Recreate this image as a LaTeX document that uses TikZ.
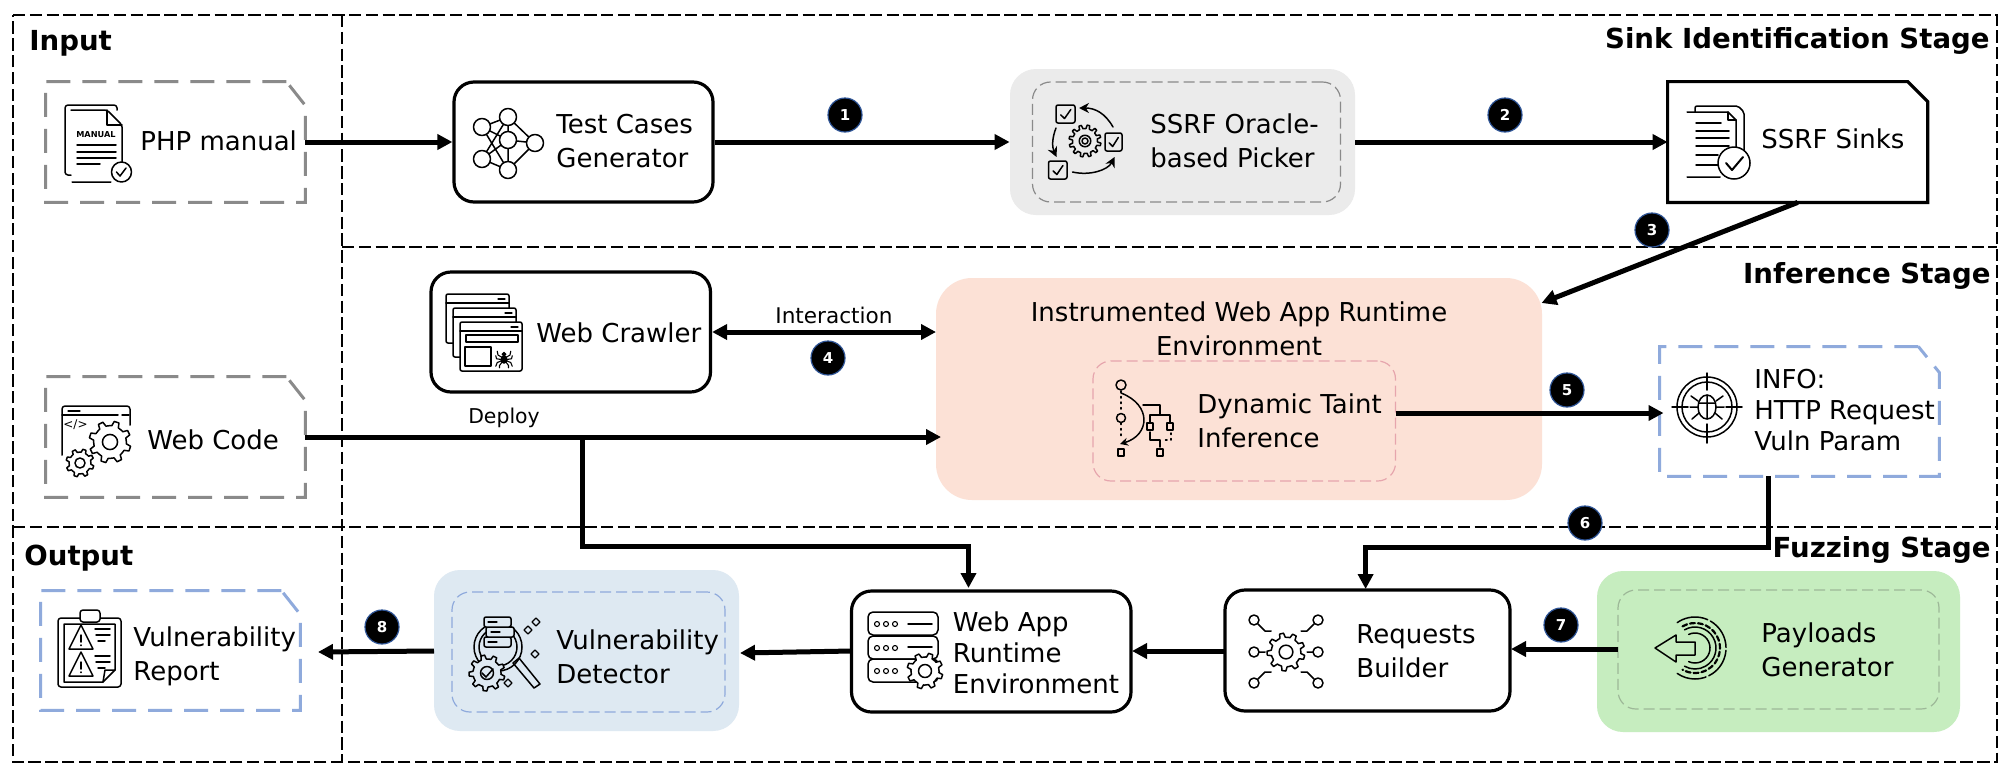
\documentclass[tikz,border=0pt]{standalone}
\usepackage{fontspec}
\setmainfont{DejaVu Sans}
\usetikzlibrary{arrows.meta}
\definecolor{docgray}{HTML}{8A8A8A}
\definecolor{docblue}{HTML}{8FAADC}
\definecolor{pickfill}{HTML}{EBEBEB}
\definecolor{peachfill}{HTML}{FCE1D6}
\definecolor{bluefill}{HTML}{DEE9F2}
\definecolor{greenfill}{HTML}{C6EDBF}
\definecolor{pinkdash}{HTML}{E6A5AD}
\definecolor{greendash}{HTML}{9DB898}
\definecolor{badgeline}{HTML}{2F5597}
\tikzset{
  frameline/.style={line width=.8pt,dash pattern=on 6.2pt off 2.2pt},
  whitebox/.style={draw=black,line width=1.6pt,rounded corners=10pt,fill=white,inner sep=0pt},
  anchorbox/.style={inner sep=0pt},
  fillbox/.style={inner sep=0pt,rounded corners=13pt},
  innerdash/.style={inner sep=0pt,rounded corners=9pt,line width=.6pt,dash pattern=on 5.5pt off 2.5pt},
  graydoc/.style={draw=docgray,line width=1.5pt,dash pattern=on 12pt off 6pt},
  bluedoc/.style={draw=docblue,line width=1.5pt,dash pattern=on 12pt off 6pt},
  lbl/.style={font=\fontsize{13}{17}\selectfont,align=left,anchor=west,inner sep=0pt},
  stage/.style={font=\fontsize{13.8}{17}\selectfont\bfseries,inner sep=0pt},
  small/.style={font=\fontsize{10.8}{13}\selectfont,inner sep=0pt},
  badge/.style={circle,fill=black,draw=badgeline,line width=.6pt,minimum size=17pt,inner sep=0pt,text=white,font=\fontsize{7.5}{9}\selectfont\bfseries},
  flow/.style={line width=2.5pt,-{Triangle[length=7.5pt,width=7.5pt]}},
  biflow/.style={line width=2.5pt,{Triangle[length=7.5pt,width=7.5pt]}-{Triangle[length=7.5pt,width=7.5pt]}},
  ic/.style={draw=black,line width=.75pt,line join=round,line cap=round},
  icthin/.style={draw=black,line width=.55pt,line join=round,line cap=round},
}
\newcommand{\gearshape}[5]{% cx cy R teeth fill
  \begin{scope}[shift={(#1,#2)}]
    \pgfmathsetmacro\gs{360/#4}
    \pgfmathsetmacro\gi{#3*.78}
    \pgfmathsetmacro\go{#3}
    \draw[ic,fill=#5] (0:\gi) foreach \k in {1,...,#4} {
      -- ({(\k-1)*\gs+.14*\gs}:\gi) -- ({(\k-1)*\gs+.26*\gs}:\go) -- ({(\k-1)*\gs+.56*\gs}:\go) -- ({(\k-1)*\gs+.68*\gs}:\gi) -- ({\k*\gs}:\gi)
    } -- cycle;
    \draw[ic] (0,0) circle[radius=#3*.36];
  \end{scope}}
\newcommand{\checkbox}[4]{% x1 y1 x2 y2
  \draw[ic,rounded corners=1pt] (#1,#2) rectangle (#3,#4);
  \draw[ic] ({#1+.25*(#3-#1)},{#2+.55*(#4-#2)}) -- ({#1+.45*(#3-#1)},{#2+.75*(#4-#2)}) -- ({#1+.78*(#3-#1)},{#2+.25*(#4-#2)});}
\newcommand{\sparkle}[2]{\draw[icthin] (#1,#2-4) -- (#1+4,#2) -- (#1,#2+4) -- (#1-4,#2) -- cycle;}
\newcommand{\docoutline}[4]{% node, style, cut x(pt), cut y(pt)
  \draw[#2] ([xshift=-#3]#1.north east) -- (#1.north west) -- (#1.south west) -- (#1.south east) -- ([yshift=-#4]#1.north east) -- cycle;}
\newcommand{\spider}[3]{% cx cy scale
  \begin{scope}[shift={(#1,#2)},scale=#3]
    \draw[icthin,fill=black] (0,2) ellipse[x radius=4,y radius=5];
    \draw[icthin,fill=black] (0,-5) circle[radius=2.6];
    \draw[icthin] (-3,-1) -- (-8,-4) -- (-9,-9) (3,-1) -- (8,-4) -- (9,-9)
      (-4,2) -- (-10,1) -- (-11,-3) (4,2) -- (10,1) -- (11,-3)
      (-4,4) -- (-9,6) -- (-11,11) (4,4) -- (9,6) -- (11,11)
      (-3,6) -- (-6,10) -- (-6,13) (3,6) -- (6,10) -- (6,13);
  \end{scope}}
\begin{document}
\begin{tikzpicture}[x=.5pt,y=-.5pt]
\useasboundingbox (0,0) rectangle (2007,772);
\fill[white] (0,0) rectangle (2007,772);

% stage frames
\coordinate (fTL) at (13,15);
\coordinate (fTR) at (1997,15);
\coordinate (fBL) at (13,762);
\coordinate (fBR) at (1997,762);
\coordinate (vT) at (342,15);
\coordinate (vB) at (342,762);
\coordinate (h1L) at (342,247);
\coordinate (h1R) at (1997,247);
\coordinate (h2L) at (13,527);
\coordinate (h2R) at (1997,527);
\draw[frameline] (fTL) -- (fTR) -- (fBR) -- (fBL) -- cycle;
\draw[frameline] (vT) -- (vB);
\draw[frameline] (h1L) -- (h1R);
\draw[frameline] (h2L) -- (h2R);

% stage titles
\node[stage,anchor=west] (tInput) at (29,43) {Input};
\node[stage,anchor=west] (tOutput) at (24,558) {Output};
\node[stage,anchor=east] (tSink) at (1990,41) {Sink Identification Stage};
\node[stage,anchor=east] (tInf) at (1991,276) {Inference Stage};
\node[stage,anchor=east] (tFuzz) at (1991,550) {Fuzzing Stage};

% filled groups
\node[fillbox,fill=pickfill,minimum width=172.5pt,minimum height=73pt] (pickerbg) at (1182.5,142) {};
\node[innerdash,draw=docgray,minimum width=154pt,minimum height=60pt] (picker) at (1186.5,142) {};
\node[fillbox,fill=peachfill,rounded corners=18pt,minimum width=303pt,minimum height=111pt] (peach) at (1239,389) {};
\node[innerdash,draw=pinkdash,minimum width=151.25pt,minimum height=60pt] (taint) at (1244.25,421) {};
\node[fillbox,fill=bluefill,minimum width=152.5pt,minimum height=80.5pt] (detbg) at (586.5,650.5) {};
\node[innerdash,draw=docblue,minimum width=136.5pt,minimum height=60pt] (det) at (588.5,652) {};
\node[fillbox,fill=greenfill,minimum width=181.5pt,minimum height=80.5pt] (paybg) at (1778.5,651.5) {};
\node[innerdash,draw=greendash,minimum width=160.5pt,minimum height=59.5pt] (pay) at (1778.5,649.5) {};

% plain boxes
\node[whitebox,minimum width=129.5pt,minimum height=60pt] (test) at (583.5,142) {};
\node[whitebox,minimum width=139.75pt,minimum height=60pt] (crawler) at (570.75,332) {};
\node[whitebox,minimum width=139.75pt,minimum height=60.5pt] (webapp) at (991.25,651.5) {};
\node[whitebox,minimum width=142.5pt,minimum height=60.5pt] (req) at (1367.5,650.5) {};

% document-shaped boxes
\node[anchorbox,minimum width=129.5pt,minimum height=60pt] (php) at (175.5,142) {};
\node[anchorbox,minimum width=129.5pt,minimum height=60pt] (code) at (175.5,437) {};
\node[anchorbox,minimum width=129.5pt,minimum height=59.5pt] (report) at (170.5,650.5) {};
\node[anchorbox,minimum width=129.7pt,minimum height=60pt] (sinks) at (1797.7,142) {};
\node[anchorbox,minimum width=139.5pt,minimum height=64.5pt] (info) at (1799.5,411.5) {};
\docoutline{php}{graydoc}{9.5pt}{12pt}
\docoutline{code}{graydoc}{9.5pt}{12pt}
\docoutline{report}{bluedoc}{9.5pt}{12pt}
\docoutline{info}{bluedoc}{10.5pt}{13pt}
\draw[draw=black,line width=1.6pt,miter limit=10] ([xshift=-10pt]sinks.north east) -- (sinks.north west) -- (sinks.south west) -- (sinks.south east) -- ([yshift=-10pt]sinks.north east) -- cycle;

% labels
\node[lbl] (lPhp) at (140,141) {PHP manual};
\node[lbl] (lTest) at (556,141) {Test Cases\\Generator};
\node[lbl] (lCrawl) at (536,333) {Web Crawler};
\node[lbl] (lPick) at (1150,141) {SSRF Oracle-\\based Picker};
\node[lbl] (lSinks) at (1761,139) {SSRF Sinks};
\node[lbl,anchor=center,align=center] (lInst) at (1239,329) {Instrumented Web App Runtime\\Environment};
\node[lbl] (lTaint) at (1197,420.5) {Dynamic Taint\\Inference};
\node[lbl,font=\fontsize{13}{15.5}\selectfont] (lInfo) at (1754,410) {INFO:\\HTTP Request\\Vuln Param};
\node[lbl] (lCode) at (147,440) {Web Code};
\node[lbl] (lRep) at (133,656) {Vulnerability\\Report};
\node[lbl] (lDet) at (556,657) {Vulnerability\\Detector};
\node[lbl,font=\fontsize{13}{15.5}\selectfont] (lApp) at (952.5,653) {Web App\\Runtime\\Environment};
\node[lbl] (lReq) at (1356,651) {Requests\\Builder};
\node[lbl] (lPay) at (1761,649.5) {Payloads\\Generator};
\node[small] (lInter) at (834,315) {Interaction};
\node[small,font=\fontsize{10.2}{13}\selectfont] (lDeploy) at (504,418) {Deploy};

% connector helpers
\coordinate (peachIn) at (1541.5,303);
\coordinate (crawlTo) at (936,332);
\coordinate (codeTo) at (941,437);
\coordinate (branch) at (582,437);
\coordinate (brDown) at (582,546);
\coordinate (brRight) at (968.5,546);
\coordinate (appIn) at (968.5,588);
\coordinate (taintOut) at (1395.5,413);
\coordinate (infoIn) at (1663.5,413);
\coordinate (infoOut) at (1768,476);
\coordinate (sixA) at (1768,547);
\coordinate (sixB) at (1365.6,547);
\coordinate (reqIn) at (1365.6,589);
\coordinate (payOut) at (1618,649);
\coordinate (reqE) at (1511,649);
\coordinate (reqOut) at (1225,651);
\coordinate (appE) at (1132,651);
\coordinate (appOut) at (851.5,651);
\coordinate (detE) at (740,653);
\coordinate (detOut) at (434,651);
\coordinate (repE) at (318,652);

% connectors
\draw[flow] (php.east) -- (test.west);
\draw[flow] (test.east) -- (pickerbg.west);
\draw[flow] (pickerbg.east) -- (sinks.west);
\draw[flow] (sinks.south) -- (peachIn);
\draw[biflow] (crawler.east) -- (crawlTo);
\draw[flow] (code.east) -- (codeTo);
\draw[flow,line join=miter] (branch) -- (brDown) -- (brRight) -- (appIn);
\draw[flow] (taintOut) -- (infoIn);
\draw[flow,line join=miter] (infoOut) -- (sixA) -- (sixB) -- (reqIn);
\draw[flow] (payOut) -- (reqE);
\draw[flow] (reqOut) -- (appE);
\draw[flow] (appOut) -- (detE);
\draw[flow] (detOut) -- (repE);

% badges
\node[badge] (b1) at (845,115) {1};
\node[badge] (b2) at (1505,115) {2};
\node[badge] (b3) at (1652,230) {3};
\node[badge] (b4) at (828,358) {4};
\node[badge] (b5) at (1567,390) {5};
\node[badge] (b6) at (1585,523) {6};
\node[badge] (b7) at (1561,625) {7};
\node[badge] (b8) at (382,627) {8};

% ---- icons ----
% manual
\draw[ic,rounded corners=1.5pt] (71,175) -- (65,175) -- (65,105) -- (117,105) -- (117,110);
\draw[ic,fill=white,rounded corners=1pt] (71,110) -- (107,110) -- (122,125) -- (122,164) (112,182) -- (71,182) -- cycle;
\draw[ic] (107,110) -- (107,125) -- (122,125);
\node[inner sep=0pt,font=\fontsize{4.1}{5}\selectfont\bfseries] (manualTxt) at (96,135) {MANUAL};
\draw[ic] (77,145) -- (116,145) (77,152) -- (116,152) (77,158) -- (116,158) (77,164) -- (100,164);
\draw[ic,fill=white] (121.5,172) circle[radius=10];
\draw[ic] (116.5,172) -- (120,176) -- (126,168);

% neural net
\draw[ic] (482,127) -- (508,117) -- (535,143) -- (508,170) -- (482,159) -- (508,140) -- (482,127) -- (508,170)
  (482,159) -- (508,117) -- (508,170) (508,140) -- (535,143);
\foreach \cx/\cy in {482/127,482/159,508/117,508/140,508/170,535/143}{
  \draw[ic,fill=white] (\cx,\cy) circle[radius=8.5];}

% crawler windows
\foreach \wx/\wy in {446/294,453/308}{
  \draw[ic,fill=white,rounded corners=1pt] (\wx,\wy) rectangle ++(63,49);
  \draw[ic] (\wx,\wy+9) -- ++(63,0);
  \draw[icthin] (\wx+52,\wy+5) -- ++(7,0);}
\draw[ic,fill=white,rounded corners=1pt] (460,322) rectangle (522,371);
\draw[ic] (460,331) -- (522,331);
\draw[icthin] (511,327) -- (518,327);
\draw[ic] (466,335) rectangle (518,342);
\draw[ic] (465,347) rectangle (491,366);
\spider{504}{358}{.75}

% picker
\checkbox{1056}{105}{1075}{123}
\checkbox{1105}{133}{1122}{151}
\checkbox{1048.5}{161}{1067}{179}
\gearshape{1085}{141}{16}{12}{pickfill}
\draw[ic] (1085,141) circle[radius=3];
\draw[ic,-{Stealth[length=5pt,width=5pt]}] (1113,127) .. controls (1105,113) and (1095,108) .. (1079,108);
\draw[ic,-{Stealth[length=5pt,width=5pt]}] (1056,128) .. controls (1052,138) and (1052,147) .. (1056.5,157);
\draw[ic,-{Stealth[length=5pt,width=5pt]}] (1072.5,172) .. controls (1090,176) and (1108,170) .. (1114.5,157);

% sinks
\begin{scope}[shift={(-4,0)}]
\draw[ic,rounded corners=1pt] (1699,112) -- (1699,106) -- (1742,106) -- (1748,112) -- (1748,155);
\draw[ic,fill=white] (1691,112) -- (1732,112) -- (1740,120) -- (1740,160) (1724,177) -- (1691,177) -- cycle;
\draw[ic] (1732,112) -- (1732,120) -- (1740,120);
\draw[ic] (1700,123) -- (1725,123) (1700,131) -- (1733,131) (1700,138) -- (1733,138) (1700,146) -- (1733,146) (1700,155) -- (1722,155) (1700,165) -- (1722,165);
\draw[ic,fill=white] (1738,163) circle[radius=16];
\draw[ic,line width=1pt] (1730,163) -- (1736,170) -- (1747,157);
\end{scope}

% taint
\draw[ic] (1121,385) circle[radius=5];
\draw[ic] (1121,418) circle[radius=4.5];
\draw[ic,dotted] (1121,391) -- (1121,413) (1121,423) -- (1121,438);
\draw[ic,-{Stealth[length=4pt,width=4pt]}] (1121,393) .. controls (1152,405) and (1150,435) .. (1120,444);
\draw[ic] (1118,449) rectangle (1124,456);
\draw[ic] (1143,405) -- (1160,405) -- (1160,415) (1150,422) -- (1150,415) -- (1170,415) -- (1170,422);
\draw[ic] (1147,423) rectangle (1153,430) (1167,423) rectangle (1173,430);
\draw[ic] (1150,432) -- (1150,440) -- (1160,440) -- (1160,447);
\draw[ic] (1157,449) rectangle (1163,456);
\draw[ic,dotted] (1171,433) -- (1171,440) -- (1163,440);

% info target
\begin{scope}[shift={(-4,0)}]
\draw[ic] (1711,407) circle[radius=30];
\draw[ic] (1711,407) circle[radius=25];
\draw[ic] (1711,373) -- (1711,390) (1711,424) -- (1711,443) (1676,407) -- (1692,407) (1730,407) -- (1746,407);
\draw[ic] (1711,407) ellipse[x radius=9,y radius=12];
\draw[ic] (1711,395) -- (1711,419) (1703,403) -- (1719,403) (1702,401) -- (1695,396) (1720,401) -- (1727,396) (1702,407) -- (1694,407) (1720,407) -- (1728,407) (1703,413) -- (1696,419) (1719,413) -- (1726,419);
\end{scope}

% web code
\draw[ic,rounded corners=1.5pt] (62,455) -- (62,406) -- (130,406) -- (130,425);
\draw[ic] (62,415) -- (118,415) (122,415) -- (129,415);
\draw[icthin] (68,411) -- (80,411);
\node[inner sep=0pt,font=\fontsize{6}{7}\selectfont] (codeTag) at (75.5,425) {</>};
\gearshape{110}{442}{21}{8}{white}
\gearshape{80}{463}{14}{8}{white}

% report
\draw[ic,rounded corners=1.5pt] (58,618) rectangle (121,687);
\draw[ic] (64,624) -- (115,624) -- (115,670) -- (103,682) -- (64,682) -- cycle;
\draw[ic] (103,682) -- (105,670) -- (115,670);
\draw[ic,fill=white,rounded corners=1.5pt] (80,610) rectangle (100,622);
\foreach \ty in {639,666}{
  \draw[ic] (81,\ty-14) -- (93,\ty+10) -- (69,\ty+10) -- cycle;
  \draw[ic] (81,\ty-4) -- (81,\ty+3) (81,\ty+6) -- (81,\ty+6.5);
  \draw[ic] (95,\ty-10) -- (110,\ty-10) (96,\ty-4) -- (110,\ty-4) (98,\ty+2) -- (105,\ty+2);}

% detector
\draw[ic] (498,647) circle[radius=24];
\draw[ic] (498,647) circle[radius=19];
\draw[ic,fill=bluefill,rounded corners=1pt] (484,617) rectangle (511,627) (486,627) rectangle (514,637) (484,637) rectangle (511,647);
\draw[icthin] (488,622) -- (497,622) (491,632) -- (500,632) (488,642) -- (497,642);
\draw[ic] (513,663) -- (534,688) -- (540,684) -- (519,658) -- cycle;
\gearshape{487}{673}{18}{9}{bluefill}
\draw[ic] (482,673) -- (486,677) -- (493,669);
\sparkle{536}{622}\sparkle{528}{630}\sparkle{535}{654}\sparkle{508}{683}

% web app
\foreach \ry in {612,636,659}{
  \draw[ic,rounded corners=2.5pt] (868,\ry) rectangle (938,\ry+23);
  \foreach \dx in {877,886,895}{\draw[icthin] (\dx,\ry+12) circle[radius=2.5];}}
\draw[ic] (908,624) -- (932,624) (908,647) -- (932,647);
\gearshape{925}{671}{18}{8}{white}

% requests
\gearshape{1286}{652}{19}{9}{white}
\draw[ic] (1254,620) circle[radius=5] (1318,620) circle[radius=5] (1254,652) circle[radius=5] (1318,652) circle[radius=5] (1254,683) circle[radius=5] (1318,683) circle[radius=5];
\draw[ic] (1258,624) -- (1265,631) -- (1271,631) (1314,624) -- (1307,631) -- (1301,631)
  (1259,652) -- (1265,652) (1313,652) -- (1307,652)
  (1258,679) -- (1265,672) -- (1271,672) (1314,679) -- (1307,672) -- (1301,672);

% payloads
\coordinate (payC) at (1695,648);
\draw[ic,dash pattern=on 16pt off 1.5pt] (payC) ++(-125:31) arc[start angle=-125,end angle=125,radius=31];
\draw[ic] (payC) ++(-115:15) arc[start angle=-115,end angle=115,radius=15];
\draw[ic] (payC) ++(-120:21) arc[start angle=-120,end angle=120,radius=21];
\draw[ic,dash pattern=on 2.5pt off 1.5pt,line width=1.1pt] (payC) ++(-120:25) arc[start angle=-120,end angle=120,radius=25];
\draw[ic,fill=greenfill] (1655,648) -- (1676,635) -- (1676,642) -- (1695,642) -- (1695,655) -- (1676,655) -- (1676,662) -- cycle;
\end{tikzpicture}
\end{document}
